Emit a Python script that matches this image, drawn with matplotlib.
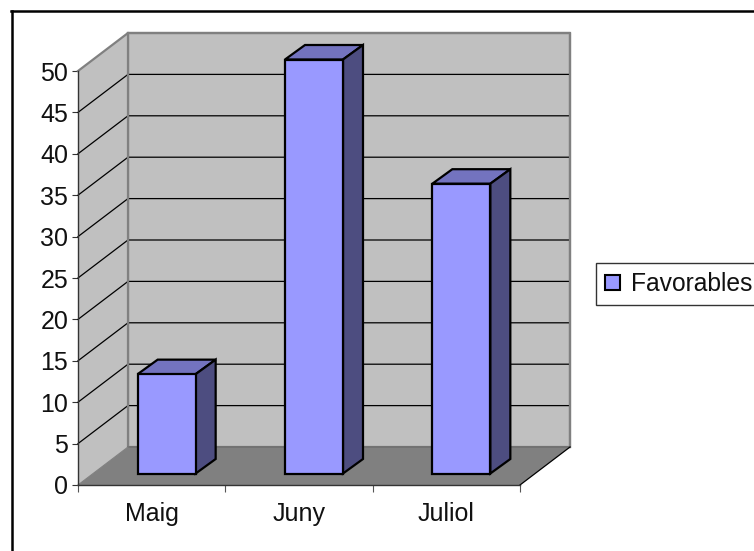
import matplotlib
matplotlib.use("Agg")
import matplotlib.pyplot as plt
from matplotlib.patches import Polygon, Patch
from matplotlib.lines import Line2D

plt.rcParams['font.family'] = ['Liberation Sans', 'DejaVu Sans']

categories = ["Maig", "Juny", "Juliol"]
favorables = [12, 50, 35]
y_ticks = list(range(0, 55, 5))
series_name = "Favorables"

W, H = 754, 551
FONT = 18
fig = plt.figure(figsize=(W / 100, H / 100), dpi=100)
fig.patch.set_facecolor("white")

# front plane of the 3d box, in pixels
left, right, top, bottom = 78, 520, 71, 485
ax = fig.add_axes([left / W, 1 - bottom / H, (right - left) / W, (bottom - top) / H])
ax.set_xlim(0, 3)
ax.set_ylim(0, 50)
ax.patch.set_visible(False)

# depth offsets, converted from pixels to data units
px_x = 3 / (right - left)
px_y = 50 / (bottom - top)
DX, DY = 50 * px_x, 38 * px_y
BAR_DX, BAR_DY = 15 * px_x, 11.5 * px_y
BAR_DEPTH_X, BAR_DEPTH_Y = 20 * px_x, 14.5 * px_y
BAR_W = 58 * px_x

WALL = "#C0C0C0"
FLOOR = "#808080"
EDGE = "#808080"


def poly(pts, fc, ec="none", lw=0.0, z=1):
    ax.add_patch(Polygon(pts, closed=True, facecolor=fc, edgecolor=ec, linewidth=lw,
                         zorder=z, clip_on=False, joinstyle="miter"))


# walls and floor
poly([(DX, DY), (3 + DX, DY), (3 + DX, 50 + DY), (DX, 50 + DY)], WALL, EDGE, 1.6)
poly([(0, 0), (DX, DY), (DX, 50 + DY), (0, 50)], WALL, z=1)
poly([(0, 0), (3, 0), (3 + DX, DY), (DX, DY)], FLOOR, z=2)

# gridlines
for v in y_ticks[1:-1]:
    ax.plot([0, DX, 3 + DX], [v, v + DY, v + DY], color="black", lw=0.9, zorder=2, clip_on=False)

# box edges
ax.plot([0, DX, 3 + DX, 3 + DX], [50, 50 + DY, 50 + DY, DY], color=EDGE, lw=1.6, zorder=3, clip_on=False)
ax.plot([DX, DX], [DY, 50 + DY], color=EDGE, lw=1.6, zorder=3, clip_on=False)
ax.plot([DX, 3 + DX], [DY, DY], color="#707070", lw=1.2, zorder=3, clip_on=False)
ax.plot([3, 3 + DX], [0, DY], color="black", lw=0.9, zorder=3, clip_on=False)
ax.plot([0, DX], [0, DY], color="#808080", lw=0.8, zorder=3, clip_on=False)

# bars
for i, val in enumerate(favorables):
    x0 = i + 0.5 + BAR_DX - BAR_W / 2
    x1 = x0 + BAR_W
    y0 = BAR_DY
    y1 = y0 + val
    poly([(x0, y0), (x1, y0), (x1, y1), (x0, y1)], "#9999FF", "black", 1.6, z=6)
    poly([(x0, y1), (x1, y1), (x1 + BAR_DEPTH_X, y1 + BAR_DEPTH_Y), (x0 + BAR_DEPTH_X, y1 + BAR_DEPTH_Y)],
         "#7373BF", "black", 1.6, z=5)
    poly([(x1, y0), (x1 + BAR_DEPTH_X, y0 + BAR_DEPTH_Y), (x1 + BAR_DEPTH_X, y1 + BAR_DEPTH_Y), (x1, y1)],
         "#4D4D80", "black", 1.6, z=5)

# axes
for s in ("top", "right"):
    ax.spines[s].set_visible(False)
for s in ("left", "bottom"):
    ax.spines[s].set_color("#333333")
    ax.spines[s].set_linewidth(1.0)
    ax.spines[s].set_zorder(4)
ax.set_yticks(y_ticks)
ax.set_yticklabels([str(v) for v in y_ticks])
ax.tick_params(axis="y", length=4.5, width=0.8, color="#333333", pad=2.5, labelsize=FONT, labelcolor="#111111")
ax.set_xticks(range(4))
ax.set_xticklabels([])
ax.tick_params(axis="x", which="major", length=5, width=0.8, color="#555555")
ax.set_xticks([i + 0.5 for i in range(3)], minor=True)
ax.set_xticklabels(categories, minor=True)
ax.tick_params(axis="x", which="minor", length=0, pad=12.5, labelsize=FONT, labelcolor="#111111")

# legend
leg = fig.legend(handles=[Patch(facecolor="#9999FF", edgecolor="black", linewidth=1.5, label=series_name)],
                 loc="upper left", bbox_to_anchor=(596 / W, 1 - 263 / H), bbox_transform=fig.transFigure,
                 borderaxespad=0, fancybox=False, edgecolor="#333333", framealpha=1, fontsize=17.7,
                 handlelength=0.6, handleheight=0.6, handletextpad=0.44, borderpad=0.37, labelcolor="#111111")
leg.get_frame().set_linewidth(1.0)

# chart border, only top and left survive the crop
fig.add_artist(Line2D([12 / W, 12 / W], [0, 1 - 11 / H], color="black", lw=1.8))
fig.add_artist(Line2D([11.3 / W, 1], [1 - 11 / H, 1 - 11 / H], color="black", lw=1.8))

fig.savefig("out.png", dpi=100)
